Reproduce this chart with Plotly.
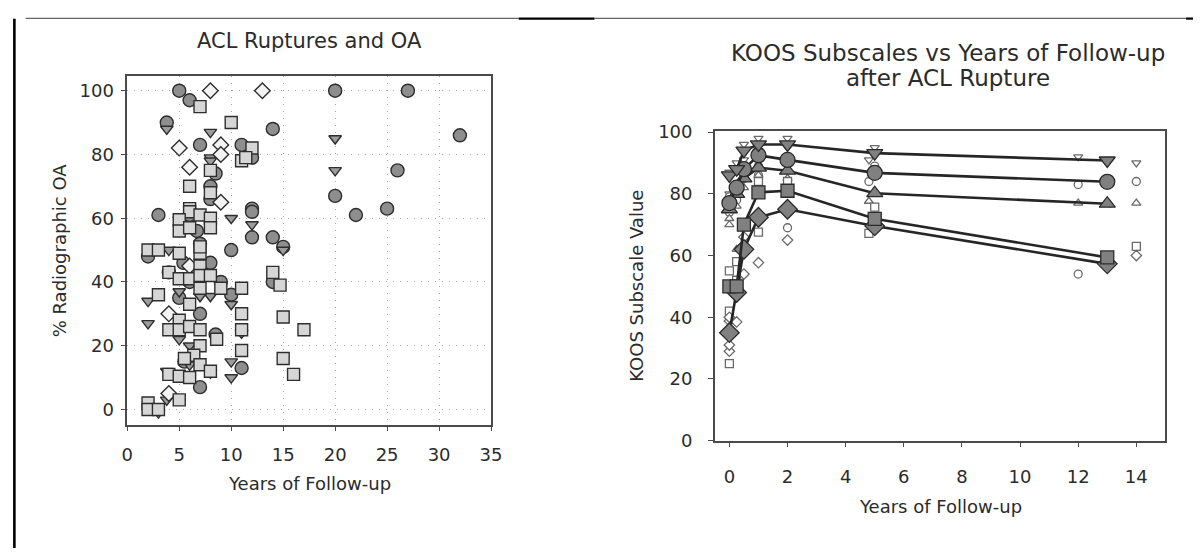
import plotly.graph_objects as go

W, H = 1204, 558

# ---------------- Left chart data: % radiographic OA vs years of follow-up
circle_x = [5, 6, 3.8, 7, 11, 14, 20, 27, 32, 26, 20, 22, 25, 3, 8.5, 8, 8, 12, 12, 12, 12, 14, 15, 10, 7, 6.7, 6, 2, 5.4, 8, 6, 5, 10, 7, 8.5, 14, 5.5, 7, 11, 4, 9]
circle_y = [100, 97, 90, 83, 83, 88, 100, 100, 86, 75, 67, 61, 63, 61, 74, 70, 66, 79, 63, 62, 54, 54, 51, 50, 52, 56, 61, 48, 46, 46, 40, 35, 36, 30, 23.5, 40, 15, 7, 13, 43, 40]

tri_x = [3.8, 8, 8, 8, 20, 20, 10, 12, 15, 4, 5, 5, 2, 2, 7, 8, 10, 5, 6, 6, 3.8, 8, 10, 10, 3.8, 3, 11]
tri_y = [88, 87, 79, 78, 85, 75, 60, 58, 50, 50, 59.5, 37, 34, 27, 35.5, 35.5, 33, 22, 20, 14, 12, 11.5, 15, 10, 3, -1, 24]

dia_x = [8, 13, 5, 9, 9, 6, 9, 6, 4, 4]
dia_y = [100, 100, 82, 83, 80, 76, 65, 45, 30, 5]

sq_x = [7, 10, 12, 11, 11.4, 8, 6, 8, 6, 6, 7, 8, 5, 8, 5, 6, 2, 3, 5, 7, 7, 7, 4, 5, 6, 7, 8, 9, 11, 7, 3, 6, 5, 4, 5, 6, 7, 8.6, 11, 11, 11, 7, 6.4, 5.5, 7, 8, 4, 5, 6, 5, 2, 2, 3, 14, 14.7, 15, 17, 15, 16]
sq_y = [95, 90, 82, 78, 79, 75, 70, 68, 63, 62, 61, 60, 59.5, 57, 56, 57, 50, 50, 49, 49, 51, 45, 43, 41, 41, 42, 42, 38, 38, 38, 36, 33, 28, 25, 25, 26, 25, 22, 30, 25, 18.5, 20, 17, 16, 14, 12, 11, 10.4, 10, 3, 2, 0, 0, 43, 39, 29, 25, 16, 11]

left_xticks = [0, 5, 10, 15, 20, 25, 30, 35]
left_yticks = [0, 20, 40, 60, 80, 100]

# ---------------- Right chart data: KOOS subscales vs years of follow-up
koos_years = [0, 0.25, 0.5, 1, 2, 5, 13]
koos_tri_down = [86, 88, 94, 96, 96, 93.2, 90.8]
koos_circle = [77, 82, 88, 92.5, 91, 86.8, 83.9]
koos_tri_up = [75, 80, 85, 88.5, 87.5, 80.2, 76.8]
koos_square = [50, 50, 70, 80.5, 81, 71.9, 59.4]
koos_diamond = [35, 48, 62, 72.4, 75, 69.6, 57.3]

# individual study values (small hollow markers)
st_tri_down_x = [0, 0, 0.25, 0.5, 0.5, 1, 1, 2, 2, 5, 4.8, 12, 14]
st_tri_down_y = [80, 87, 90, 96, 91, 98, 94, 98, 95, 95, 91, 92, 90]
st_circle_x = [0, 0, 0.25, 0.5, 1, 1, 2, 2, 5, 4.8, 12, 12, 14]
st_circle_y = [74, 79, 78, 85, 89, 86, 90, 69, 89, 84, 83, 54, 84]
st_tri_up_x = [0, 0, 0.25, 0.25, 0.5, 1, 2, 4.8, 12, 14]
st_tri_up_y = [70, 72, 62, 76, 82, 86, 85, 77.6, 77, 77]
st_square_x = [0, 0, 0, 0.25, 0.25, 1, 1, 2, 4.8, 5, 14]
st_square_y = [25, 42, 55, 58, 52, 84, 67.6, 84, 67.2, 75.7, 63]
st_diamond_x = [0, 0, 0, 0, 0.25, 0.5, 0.5, 1, 2, 14]
st_diamond_y = [29, 31, 38.8, 40, 38.5, 66, 54, 57.7, 65, 60]

right_xticks = [0, 2, 4, 6, 8, 10, 12, 14]
right_yticks = [0, 20, 40, 60, 80, 100]

FONT = "DejaVu Sans"
TXT = "#2b2b2b"
EDGE = "#2e2e2e"

fig = go.Figure()

def left_scatter(xs, ys, symbol, fill, size):
    fig.add_trace(go.Scatter(
        x=xs, y=ys, mode="markers", xaxis="x", yaxis="y", showlegend=False,
        marker=dict(symbol=symbol, size=size, color=fill,
                    line=dict(color=EDGE, width=1.4)),
        hoverinfo="x+y"))

left_scatter(circle_x, circle_y, "circle", "#8e8e8e", 13)
left_scatter(tri_x, tri_y, "triangle-down", "#9c9c9c", 11)
left_scatter(dia_x, dia_y, "diamond", "#f3f3f3", 12)
left_scatter(sq_x, sq_y, "square", "#d6d6d6", 12)

# small hollow study markers on right chart (drawn first)
def hollow(xs, ys, symbol):
    fig.add_trace(go.Scatter(
        x=xs, y=ys, mode="markers", xaxis="x2", yaxis="y2", showlegend=False,
        marker=dict(symbol=symbol, size=8, color="white",
                    line=dict(color="#6a6a6a", width=1.3)),
        hoverinfo="x+y"))

hollow(st_tri_down_x, st_tri_down_y, "triangle-down")
hollow(st_circle_x, st_circle_y, "circle")
hollow(st_tri_up_x, st_tri_up_y, "triangle-up")
hollow(st_square_x, st_square_y, "square")
hollow(st_diamond_x, st_diamond_y, "diamond")

def koos(ys, symbol, size):
    fig.add_trace(go.Scatter(
        x=koos_years, y=ys, mode="lines+markers", xaxis="x2", yaxis="y2",
        showlegend=False,
        line=dict(color="#262626", width=2.6),
        marker=dict(symbol=symbol, size=size, color="#808080",
                    line=dict(color="#2a2a2a", width=1.3)),
        hoverinfo="x+y"))

koos(koos_diamond, "diamond", 15)
koos(koos_square, "square", 13)
koos(koos_tri_up, "triangle-up", 14)
koos(koos_circle, "circle", 15)
koos(koos_tri_down, "triangle-down", 14)

def px(x):
    return x / W

def py(y):
    return 1 - y / H

axis_common = dict(showline=True, linecolor="#4a4a4a", linewidth=1.5, mirror=True,
                   ticks="outside", ticklen=5, tickcolor="#4a4a4a", tickwidth=1.3,
                   tickfont=dict(family=FONT, size=18, color=TXT), zeroline=False)

GRID = dict(showgrid=True, gridcolor="#a8a8a8", griddash="1px,6px", gridwidth=1.2)

fig.update_layout(
    width=W, height=H, margin=dict(l=0, r=0, t=0, b=0),
    paper_bgcolor="white", plot_bgcolor="white",
    xaxis=dict(domain=[px(123), px(492)], range=[0, 35], tickvals=left_xticks,
               anchor="y", ticklabelstandoff=8, **GRID, **axis_common),
    yaxis=dict(domain=[py(430), py(68)], range=[-4.75, 104.75], tickvals=left_yticks,
               anchor="x", ticklabelstandoff=3, **GRID, **axis_common),
    xaxis2=dict(domain=[px(719), px(1176)], range=[-0.5, 15], tickvals=right_xticks,
                showgrid=False, anchor="y2", ticklabelstandoff=14, **axis_common),
    yaxis2=dict(domain=[py(446.7), py(125.7)], range=[0, 100.3], tickvals=right_yticks,
                showgrid=False, anchor="x2", ticklabelstandoff=12, **axis_common),
)

def ann(text, x, y, size, angle=0):
    fig.add_annotation(text=text, x=px(x), y=py(y), xref="paper", yref="paper",
                       showarrow=False, textangle=angle, xanchor="center", yanchor="middle",
                       font=dict(family=FONT, size=size, color=TXT))

ann("ACL Ruptures and OA", 307.5, 32, 21)
ann("% Radiographic OA", 54, 249, 18, -90)
ann("Years of Follow-up", 307.5, 491, 18)
ann("KOOS Subscales vs Years of Follow-up", 955, 45, 23)
ann("after ACL Rupture", 955, 71, 23)
ann("KOOS Subscale Value", 640, 286, 18, -90)
ann("Years of Follow-up", 947.5, 515, 18)

# outer frame fragments (top and left border of the figure)
fig.add_shape(type="line", xref="paper", yref="paper", x0=px(20), x1=px(520), y0=py(8.7), y1=py(8.7),
              line=dict(color="#666666", width=1.3))
fig.add_shape(type="line", xref="paper", yref="paper", x0=px(520), x1=px(597), y0=py(8.9), y1=py(8.9),
              line=dict(color="#000000", width=2.2))
fig.add_shape(type="line", xref="paper", yref="paper", x0=px(597), x1=px(1197), y0=py(8.7), y1=py(8.7),
              line=dict(color="#666666", width=1.3))
fig.add_shape(type="line", xref="paper", yref="paper", x0=px(1197), x1=px(1204), y0=py(8.9), y1=py(8.9),
              line=dict(color="#000000", width=2.2))
fig.add_shape(type="line", xref="paper", yref="paper", x0=px(8.5), x1=px(8.5), y0=py(9), y1=py(558),
              line=dict(color="#000000", width=2.6))

fig.write_html("out.html")
